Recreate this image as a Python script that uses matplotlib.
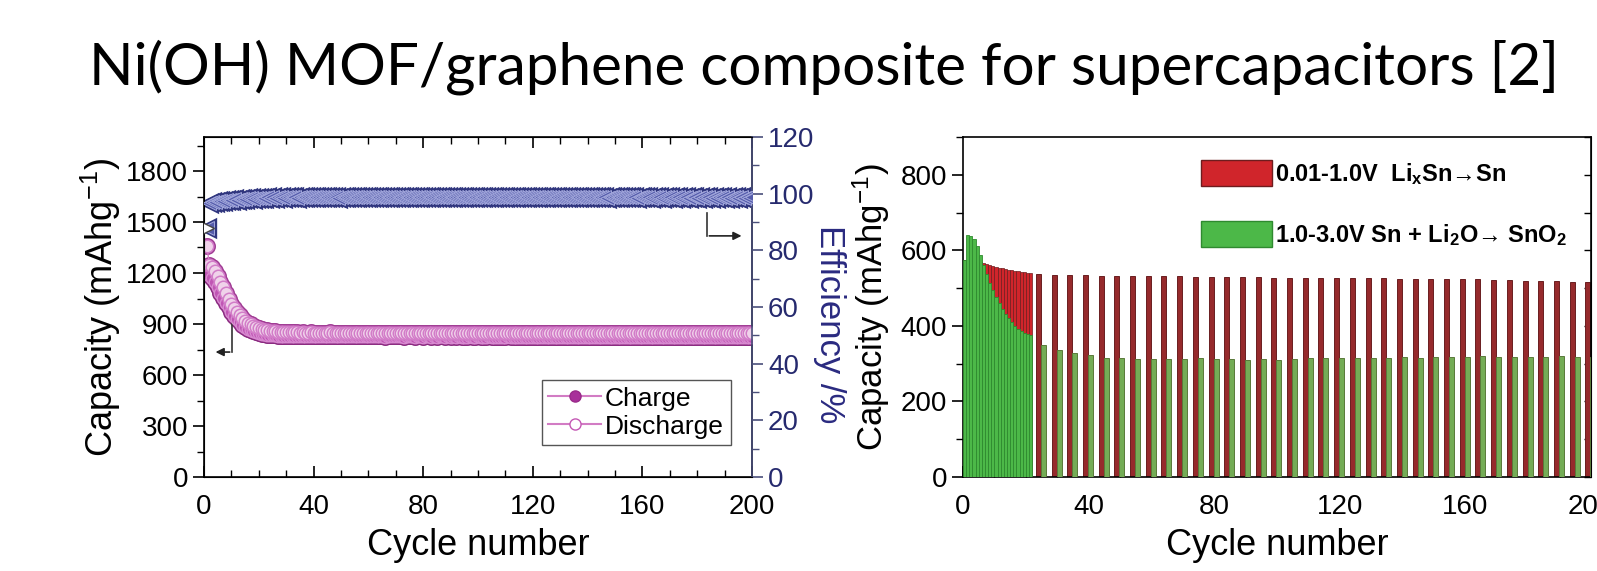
import numpy as np
import matplotlib.pyplot as plt
from matplotlib.lines import Line2D
from matplotlib.patches import Patch
from matplotlib.ticker import MultipleLocator

plt.rcParams['font.family'] = ['Liberation Sans', 'DejaVu Sans']
plt.rcParams['mathtext.fontset'] = 'custom'
plt.rcParams['mathtext.rm'] = 'Liberation Sans'
plt.rcParams['mathtext.it'] = 'Liberation Sans'
plt.rcParams['mathtext.bf'] = 'Liberation Sans:bold'

# ---- left panel data (cycle 1..200) ----
cycles = np.arange(1, 201)

discharge = [
    1360, 1250, 1235, 1210, 1180, 1150, 1115, 1080, 1050, 1020, 995, 972, 952, 935, 920, 908, 898, 890, 882, 876,
    871, 867, 864, 861, 859, 857, 855, 854, 853, 852, 852, 851, 852, 851, 850, 851, 850, 850, 851, 850,
    849, 850, 850, 849, 850, 851, 849, 850, 849, 850, 850, 849, 849, 850, 849, 850, 848, 849, 850, 849,
    849, 850, 849, 848, 849, 850, 849, 848, 849, 849, 850, 848, 849, 848, 849, 850, 848, 849, 848, 849,
    848, 849, 850, 848, 849, 848, 849, 848, 849, 850, 848, 849, 848, 848, 849, 848, 849, 848, 849, 848,
    848, 849, 848, 849, 848, 847, 848, 849, 848, 848, 849, 848, 847, 848, 849, 848, 848, 847, 848, 849,
    848, 847, 848, 848, 849, 847, 848, 848, 847, 848, 849, 848, 847, 848, 847, 848, 848, 847, 849, 848,
    847, 848, 847, 848, 847, 848, 848, 847, 848, 847, 848, 847, 846, 847, 848, 847, 847, 846, 847, 848,
    847, 846, 847, 847, 846, 847, 848, 846, 847, 846, 847, 846, 847, 846, 847, 846, 845, 846, 847, 846,
    846, 845, 846, 847, 846, 845, 846, 846, 845, 846, 845, 846, 845, 846, 845, 846, 845, 845, 846, 845,
]

charge = [
    1200, 1190, 1170, 1145, 1115, 1085, 1055, 1025, 998, 972, 950, 930, 912, 897, 884, 873, 864, 857, 851, 846,
    842, 839, 837, 835, 834, 833, 832, 831, 831, 830, 830, 829, 830, 829, 829, 828, 829, 828, 829, 828,
    828, 829, 828, 827, 828, 829, 828, 827, 828, 828, 827, 828, 829, 827, 828, 827, 828, 828, 827, 828,
    827, 828, 827, 828, 827, 826, 827, 828, 827, 827, 828, 827, 826, 827, 828, 827, 826, 827, 827, 826,
    827, 828, 826, 827, 826, 827, 827, 826, 827, 826, 827, 826, 827, 826, 825, 826, 827, 826, 826, 827,
    826, 825, 826, 827, 826, 826, 825, 826, 825, 826, 827, 826, 825, 826, 825, 826, 826, 825, 826, 825,
    826, 825, 824, 825, 826, 825, 825, 824, 825, 826, 825, 824, 825, 825, 824, 825, 826, 825, 824, 825,
    824, 825, 824, 825, 824, 825, 825, 824, 823, 824, 825, 824, 824, 823, 824, 825, 824, 823, 824, 824,
    823, 824, 825, 823, 824, 823, 824, 823, 824, 823, 822, 823, 824, 823, 823, 822, 823, 824, 823, 822,
    823, 822, 823, 822, 823, 822, 822, 823, 822, 821, 822, 823, 822, 821, 822, 822, 821, 822, 821, 822,
]

efficiency = [
    88.0, 96.8, 97.0, 97.2, 97.3, 97.5, 97.4, 97.6, 97.8, 97.7, 98.0, 97.9, 98.1, 98.2, 98.0, 98.3, 98.4, 98.2, 98.5, 98.4,
    98.6, 98.5, 98.7, 98.5, 98.8, 98.6, 98.7, 98.9, 98.6, 98.8, 98.7, 98.9, 98.8, 98.6, 98.9, 98.7, 98.8, 99.0, 98.7, 98.8,
    98.9, 98.7, 98.8, 99.0, 98.8, 98.7, 98.9, 98.8, 98.6, 98.9, 98.8, 99.0, 98.7, 98.9, 98.8, 98.7, 98.9, 98.8, 99.0, 98.8,
    98.7, 98.9, 98.8, 99.0, 98.7, 98.8, 98.9, 98.7, 98.8, 99.0, 98.9, 98.7, 98.8, 98.9, 98.7, 99.0, 98.8, 98.9, 98.7, 98.8,
    98.9, 98.8, 98.7, 99.0, 98.8, 98.9, 98.7, 98.8, 98.9, 99.0, 98.7, 98.8, 98.9, 98.7, 98.8, 98.9, 98.8, 98.7, 99.0, 98.8,
    98.9, 98.7, 98.8, 98.9, 98.8, 99.0, 98.7, 98.8, 98.9, 98.8, 98.7, 98.9, 98.8, 99.0, 98.8, 98.7, 98.9, 98.8, 98.7, 98.9,
    98.8, 98.7, 98.9, 99.0, 98.8, 98.7, 98.8, 98.9, 98.7, 98.8, 98.9, 98.8, 98.7, 98.9, 98.8, 98.7, 98.9, 98.8, 98.7, 98.8,
    98.9, 98.7, 98.8, 98.9, 98.7, 98.8, 98.6, 98.8, 98.7, 98.9, 98.7, 98.8, 98.7, 98.9, 98.8, 98.7, 98.8, 98.6, 98.8, 98.7,
    98.8, 98.7, 98.6, 98.8, 98.7, 98.8, 98.6, 98.7, 98.8, 98.7, 98.6, 98.8, 98.7, 98.6, 98.8, 98.7, 98.6, 98.7, 98.8, 98.6,
    98.7, 98.6, 98.8, 98.7, 98.6, 98.7, 98.6, 98.8, 98.7, 98.6, 98.7, 98.6, 98.7, 98.8, 98.6, 98.7, 98.6, 98.7, 98.6, 98.7,
]

# ---- right panel data ----
block_cycles = np.arange(1, 23)
block_total = [575, 575, 574, 572, 570, 568, 566, 564, 561, 558, 556, 554, 552, 550, 548, 547, 545, 544, 543, 542, 541, 540]
block_green = [575, 640, 638, 630, 612, 588, 562, 537, 514, 494, 476, 460, 445, 432, 420, 409, 400, 392, 386, 381, 378, 376]

sparse_cycles = [24, 29, 34, 39, 44, 49, 54, 59, 64, 69, 74, 79, 84, 89, 94, 99, 104, 109,
                 114, 119, 124, 129, 134, 139, 144, 149, 154, 159, 164, 169, 174, 179, 184, 189, 194, 199]
sparse_total = [537, 536, 534, 534, 533, 533, 532, 532, 531, 531, 530, 530, 529, 529, 529, 528, 528, 528,
                527, 527, 527, 526, 526, 525, 525, 524, 524, 523, 523, 522, 521, 520, 519, 518, 517, 515]
sparse_green = [350, 337, 328, 322, 316, 314, 312, 312, 313, 313, 314, 313, 312, 311, 312, 311, 313, 314,
                315, 316, 315, 315, 316, 317, 316, 318, 318, 317, 319, 318, 318, 318, 318, 319, 318, 318]

RED = '#d0252b'
RED_EDGE = '#6e1c1e'
GREEN = '#4cb848'
GREEN_EDGE = '#2f8a2f'
NAVY = '#262a6e'
PINK = '#d27cc4'

W, H = 1597, 571
fig = plt.figure(figsize=(W / 100, H / 100), dpi=100)

fig.text(0.516, 0.882, 'Ni(OH) MOF/graphene composite for supercapacitors [2]',
         ha='center', va='center', fontsize=42, family=['Lato', 'DejaVu Sans'])

# ================= left panel =================
ax = fig.add_axes([204 / W, 1 - 477 / H, (752 - 204) / W, (477 - 137) / H])
ax2 = ax.twinx()

# dark outline layer, then lighter layer on top -> outlined bands
ax.plot(cycles, charge, linestyle='none', marker='o', ms=10, mfc='#9a2a8c', mec='#8a2a80', mew=2.2, zorder=2)
ax.plot(cycles, discharge, linestyle='none', marker='o', ms=10, mfc='#b04aa4', mec='#a03c94', mew=2.2, zorder=2)
ax.plot(cycles, charge, '-', color=PINK, lw=1, marker='o', ms=9,
        mfc='#c055b4', mec='#d88ad0', mew=1, zorder=3)
ax.plot(cycles, discharge, '-', color=PINK, lw=1, marker='o', ms=9,
        mfc='#f0d2ea', mec='#d27cc8', mew=1.1, zorder=4)

ax2.plot(cycles, efficiency, linestyle='none', marker='<', ms=11.5, mfc='#30367e', mec='#30367e', mew=2.4, zorder=2)
ax2.plot(cycles, efficiency, linestyle='none', marker='<', ms=10.5, mfc='#555cab', mec='#a3a8dc', mew=0.7, zorder=3)
ax2.plot(cycles[:1], efficiency[:1], linestyle='none', marker='>', ms=10, mfc='white', mec='#444', mew=1, zorder=4)

ax.set_xlim(0, 200)
ax.set_ylim(0, 2000)
ax2.set_ylim(0, 120)
ax.xaxis.set_major_locator(MultipleLocator(40))
ax.xaxis.set_minor_locator(MultipleLocator(10))
ax.yaxis.set_major_locator(MultipleLocator(300))
ax.yaxis.set_minor_locator(MultipleLocator(150))
ax2.yaxis.set_major_locator(MultipleLocator(20))
ax2.yaxis.set_minor_locator(MultipleLocator(10))

ax.tick_params(axis='x', which='both', direction='in', top=True, labelsize=20, pad=12)
ax.tick_params(axis='x', which='major', length=8, width=1.2)
ax.tick_params(axis='x', which='minor', length=5, width=1)
ax.tick_params(axis='y', which='major', direction='out', length=8, width=1.2, labelsize=20)
ax.tick_params(axis='y', which='minor', direction='out', length=5, width=1)
ax2.tick_params(axis='y', which='major', direction='out', length=8, width=1.2, labelsize=20,
                colors='#4a4f7a', labelcolor=NAVY)
ax2.tick_params(axis='y', which='minor', direction='out', length=5, width=1, colors='#4a4f7a')
ax2.spines['right'].set_color('#4a4f7a')
for s in ax.spines.values():
    s.set_linewidth(1.2)
ax2.spines['right'].set_linewidth(1.2)

ax.set_xlabel('Cycle number', fontsize=26, labelpad=6)
ax.set_ylabel('Capacity (mAhg$^{-1}$)', fontsize=26, labelpad=2)
ax2.set_ylabel('Efficiency /%', fontsize=25, color='#2a2a80', rotation=270, ha='center', va='center')
ax2.yaxis.set_label_coords((830 - 204) / 548, 0.45)

# guide arrows
ax.plot([10.2, 10.2], [950, 735], color='#333', lw=1.2)
ax.annotate('', xy=(3.2, 735), xytext=(10.4, 735),
            arrowprops=dict(arrowstyle='-|>', color='#222', lw=1.2, mutation_scale=12))
ax2.plot([183.6, 183.6], [93.2, 85.1], color='#333', lw=1.2)
ax2.annotate('', xy=(197.2, 85.1), xytext=(183.4, 85.1),
             arrowprops=dict(arrowstyle='-|>', color='#222', lw=1.2, mutation_scale=12))

leg_handles = [
    Line2D([], [], color=PINK, lw=1.5, marker='o', ms=8, mfc='#a8309a', mec='#9a2a8a'),
    Line2D([], [], color=PINK, lw=1.5, marker='o', ms=8, mfc='white', mec='#c458b4'),
]
ax2.legend(leg_handles, ['Charge', 'Discharge'], loc='lower right', bbox_to_anchor=(0.985, 0.055),
           fontsize=19, frameon=True, fancybox=False, edgecolor='#555', framealpha=1,
           handlelength=2.0, handletextpad=0.15, borderpad=0.25, labelspacing=0.15)

# ================= right panel =================
bx = fig.add_axes([963 / W, 1 - 477 / H, (1591 - 963) / W, (477 - 137) / H])
bx.bar(block_cycles - 0.5, block_total, width=1, color=RED, edgecolor=RED_EDGE, lw=0.5, zorder=2)
bx.bar(block_cycles - 0.5, block_green, width=1, color=GREEN, edgecolor=GREEN_EDGE, lw=0.6, zorder=3)
bx.bar(sparse_cycles, sparse_total, width=1.6, color='#962a2c', edgecolor='#6a1e20', lw=0.7, zorder=2)
bx.bar(np.array(sparse_cycles) + 1.6, sparse_green, width=1.6, color='#74ac56', edgecolor='#5a7a3a',
       lw=0.7, zorder=3)

bx.set_xlim(0, 200)
bx.set_ylim(0, 900)
bx.xaxis.set_major_locator(MultipleLocator(40))
bx.xaxis.set_minor_locator(MultipleLocator(10))
bx.yaxis.set_major_locator(MultipleLocator(200))
bx.yaxis.set_minor_locator(MultipleLocator(100))
bx.tick_params(axis='x', which='both', direction='in', labelsize=20, pad=12)
bx.tick_params(axis='x', which='major', length=8, width=1.2)
bx.tick_params(axis='x', which='minor', length=5, width=1)
bx.tick_params(axis='y', which='major', direction='out', length=8, width=1.2, labelsize=20)
bx.tick_params(axis='y', which='minor', direction='out', length=5, width=1)
for s in bx.spines.values():
    s.set_linewidth(1.2)
sec = bx.secondary_yaxis('right')
sec.yaxis.set_major_locator(MultipleLocator(100))
sec.tick_params(direction='in', length=5, width=1, labelright=False)

bx.set_xlabel('Cycle number', fontsize=26, labelpad=6)
bx.set_ylabel('Capacity (mAhg$^{-1}$)', fontsize=25, labelpad=6)

bar_handles = [Patch(facecolor=RED, edgecolor=RED_EDGE), Patch(facecolor=GREEN, edgecolor=GREEN_EDGE)]
bx.legend(bar_handles,
          ['0.01-1.0V  Li$_\\mathbf{x}$Sn\u2192Sn',
           '1.0-3.0V Sn + Li$_\\mathbf{2}$O\u2192 SnO$_\\mathbf{2}$'],
          loc='upper left', bbox_to_anchor=(0.345, 0.995), frameon=False,
          prop={'weight': 'bold', 'size': 17}, handlelength=3.0, handleheight=1.3,
          handletextpad=0.15, labelspacing=1.45)

fig.savefig('out.png', dpi=100)
